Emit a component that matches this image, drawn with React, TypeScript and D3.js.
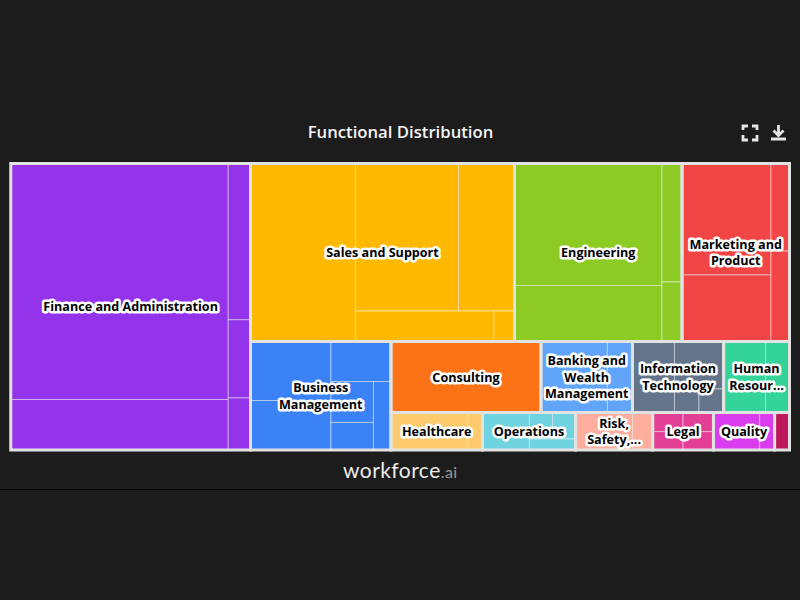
import React from "react";
import { hierarchy, treemap, treemapDice, treemapSlice } from "d3";

// a cell tree: "across" cuts along x, "down" cuts along y, numbers are leaf values
interface Cell {
  cut?: "across" | "down";
  value?: number;
  group?: number;
  children?: Cell[];
}
type Part = number | Cell;

const toCell = (p: Part): Cell => (typeof p === "number" ? { value: p } : p);
const across = (...parts: Part[]): Cell => ({ cut: "across", children: parts.map(toCell) });
const down = (...parts: Part[]): Cell => ({ cut: "down", children: parts.map(toCell) });

const groupNames = [
  "Finance and Administration",
  "Sales and Support",
  "Engineering",
  "Marketing and Product",
  "Business Management",
  "Consulting",
  "Banking and Wealth Management",
  "Information Technology",
  "Human Resources",
  "Healthcare",
  "Operations",
  "Risk, Safety, and Compliance",
  "Legal",
  "Quality",
  "Other",
];

// wrapped the way the original wraps them, empty when the cell is too small
const groupLabels = [
  ["Finance and Administration"],
  ["Sales and Support"],
  ["Engineering"],
  ["Marketing and", "Product"],
  ["Business", "Management"],
  ["Consulting"],
  ["Banking and", "Wealth", "Management"],
  ["Information", "Technology"],
  ["Human", "Resour..."],
  ["Healthcare"],
  ["Operations"],
  ["Risk,", "Safety,..."],
  ["Legal"],
  ["Quality"],
  [],
];

const groupColors = [
  "#9333ea",
  "#ffb900",
  "#8ccb24",
  "#f24545",
  "#3b82f6",
  "#fb7316",
  "#60a5fa",
  "#64748b",
  "#34d399",
  "#fdcb6e",
  "#6fd3e0",
  "#fdae9f",
  "#e43f96",
  "#d93ded",
  "#be185d",
];

const financeValues = across(down(5133, 1098), down(348, 174, 116));
const salesValues = across(1869, down(across(1519, 826), across(422, 63)));
const engineeringValues = across(down(1800, 826), down(237, 119));
const marketingValues = across(down(992, 592), down(162, 167));
const businessValues = across(down(475, 398), down(240, across(down(174, 117), 120)));
const consultingValues = across(1065);
const bankingValues = across(472, 178);
const itValues = across(298, down(233, across(58, 58)));
const hrValues = across(298, 170);
const healthcareValues = across(287, 56);
const operationsValues = across(176, down(across(61, 61), 51));
const riskValues = across(214, 75);
const legalValues = across(down(58, 56), down(58, 56));
const qualityValues = across(173, 56);
const otherValues = across(56);

const groupValues = [
  financeValues,
  salesValues,
  engineeringValues,
  marketingValues,
  businessValues,
  consultingValues,
  bankingValues,
  itValues,
  hrValues,
  healthcareValues,
  operationsValues,
  riskValues,
  legalValues,
  qualityValues,
  otherValues,
];
groupValues.forEach((g, i) => (g.group = i));

const [fin, sal, eng, mkt, bus, con, ban, inf, hum, hea, ope, ris, leg, qua, oth] = groupValues;
const tree = across(
  fin,
  down(
    across(sal, eng, mkt),
    across(bus, down(across(con, ban, inf, hum), across(hea, ope, ris, leg, qua, oth)))
  )
);

const width = 800;
const height = 600;
const plotLeft = 10.75;
const plotRight = 789.5;
const plotTop = 163.5;
const plotBottom = 450;

const root = hierarchy<Cell>(tree)
  .sum((d) => d.value ?? 0);

treemap<Cell>()
  .size([plotRight - plotLeft, plotBottom - plotTop])
  .tile((node, x0, y0, x1, y1) => {
    if (node.data.cut === "down") treemapSlice(node, x0, y0, x1, y1);
    else treemapDice(node, x0, y0, x1, y1);
  })(root);

const groupNodes = root.descendants().filter((d) => d.data.group !== undefined) as any[];
const labelFont = "'Open Sans', 'Noto Sans', sans-serif";

export default function App() {
  return (
    <svg
      width={width}
      height={height}
      style={{ position: "fixed", left: 0, top: 0, background: "#1c1c1c" }}
    >
      <text
        x={400.5}
        y={138}
        textAnchor="middle"
        fill="#f5f5f5"
        fontFamily={labelFont}
        fontSize={16.7}
        fontWeight={600}
      >
        Functional Distribution
      </text>

      <g fill="none" stroke="#e6e6e6" strokeWidth={2.8}>
        <path d="M743 130V126H748M752 126H757V130M757 135V140H752M748 140H743V135" />
        <path d="M778.5 125V135M773.5 130.5L778.5 135.5L783.5 130.5" />
        <path d="M771 139H786" strokeWidth={3} />
      </g>

      <g transform={`translate(${plotLeft},${plotTop})`}>
        {groupNodes.map((g) => (
          <g key={groupNames[g.data.group]}>
            {g.leaves().map((leaf: any, i: number) => (
              <rect
                key={i}
                x={leaf.x0}
                y={leaf.y0}
                width={leaf.x1 - leaf.x0}
                height={leaf.y1 - leaf.y0}
                fill={groupColors[g.data.group]}
                stroke="#ffffff"
                strokeOpacity={0.5}
                strokeWidth={1}
              />
            ))}
          </g>
        ))}
        {groupNodes.map((g) => (
          <rect
            key={groupNames[g.data.group]}
            x={g.x0}
            y={g.y0}
            width={g.x1 - g.x0}
            height={g.y1 - g.y0}
            fill="none"
            stroke="#e2e2e2"
            strokeWidth={3}
          />
        ))}
        {groupNodes.map((g) => {
          const lines = groupLabels[g.data.group];
          const cx = (g.x0 + g.x1) / 2;
          const cy = (g.y0 + g.y1) / 2;
          return (
            <text
              key={groupNames[g.data.group]}
              textAnchor="middle"
              fontFamily={labelFont}
              fontSize={12.6}
              fontWeight={700}
              fill="#000000"
              stroke="#ffffff"
              strokeWidth={5}
              strokeLinejoin="round"
              paintOrder="stroke"
            >
              {lines.map((line, i) => (
                <tspan key={i} x={cx} y={cy + (i - (lines.length - 1) / 2) * 16.5 + 4.5}>
                  {line}
                </tspan>
              ))}
            </text>
          );
        })}
      </g>

      <text x={343} y={478} fontFamily="Lato, 'Open Sans', sans-serif" fontSize={21} letterSpacing={0.45}>
        <tspan fill="#ececec">workforce</tspan>
        <tspan fill="#9a9a9a" fontSize={16}>.ai</tspan>
      </text>
      <line x1={0} x2={width} y1={489.5} y2={489.5} stroke="#000000" strokeWidth={1} />
    </svg>
  );
}
